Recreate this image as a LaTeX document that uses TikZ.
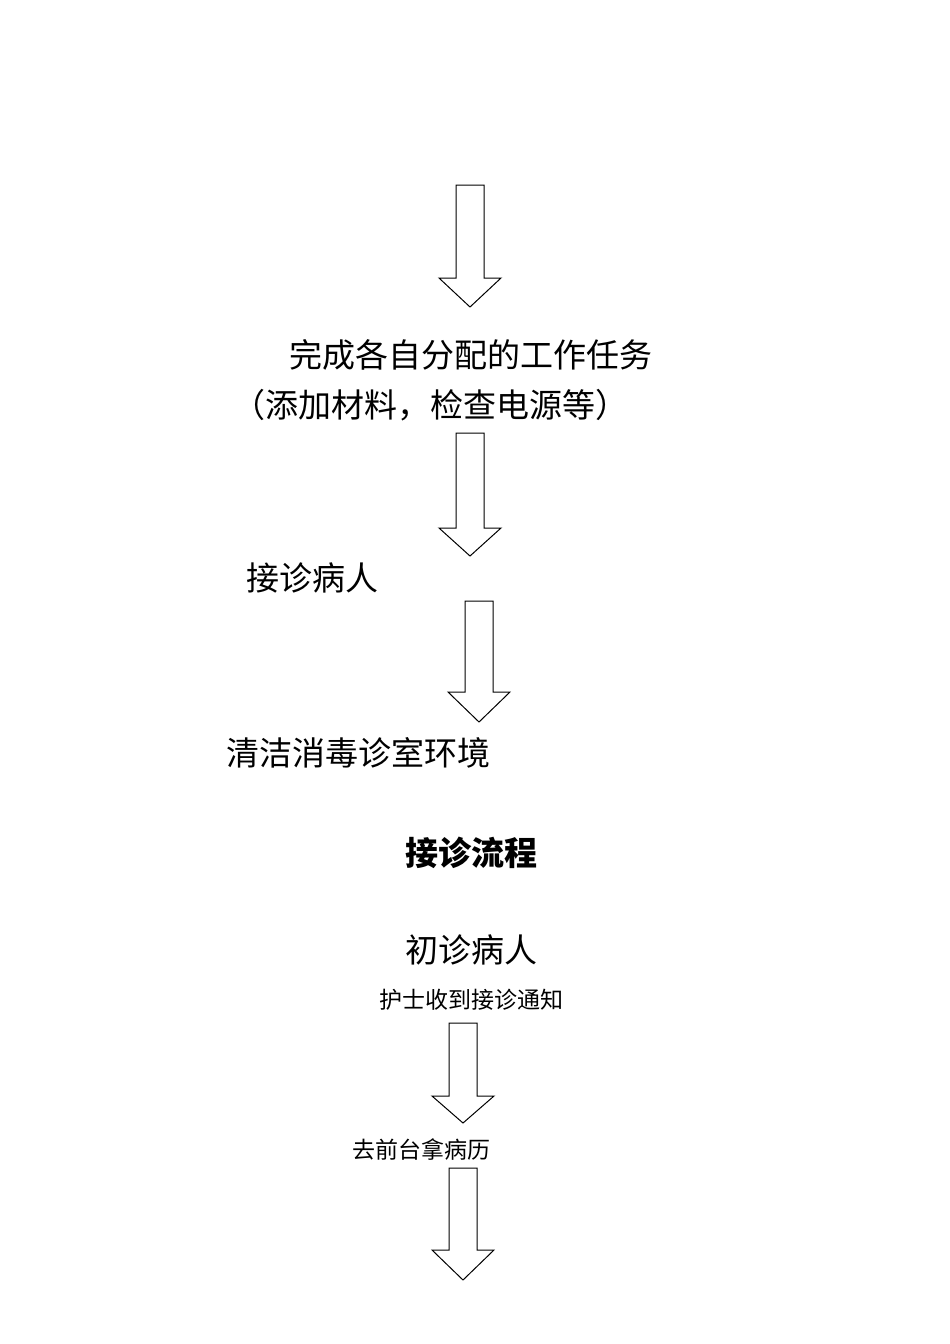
\documentclass[tikz,border=0pt]{standalone}
\usepackage{fontspec}
\newfontfamily\cjk{Noto Sans CJK SC}
\usetikzlibrary{positioning}
\tikzset{
  big/.style={inner sep=0pt, font=\cjk\fontsize{33}{38}\selectfont},
  bigb/.style={inner sep=0pt, font=\cjk\bfseries\fontsize{33}{38}\selectfont},
  small/.style={inner sep=0pt, font=\cjk\fontsize{23}{27}\selectfont},
  blockarrow/.style={draw=black, line width=1pt, fill=white}
}
% block arrow: center x, shaft top, shaft end, tip
\newcommand{\blkarrow}[4]{%
  \draw[blockarrow] (#1-14,#2) -- (#1+14,#2) -- (#1+14,#3) -- (#1+31,#3)
    -- (#1,#4) -- (#1-31,#3) -- (#1-14,#3) -- cycle;}
\begin{document}
\begin{tikzpicture}[x=1pt, y=-1pt]
  \useasboundingbox (0,0) rectangle (950,1344);
  % arrows
  \blkarrow{470}{185}{278}{307}
  \blkarrow{470}{433}{528}{556}
  \blkarrow{479}{601}{692}{722}
  \blkarrow{463}{1023}{1096}{1123}
  \blkarrow{463}{1168}{1250}{1280}
  % texts
  \node (task) [big] at (471,355) {完成各自分配的工作任务};
  \node (taskx) [big] at (430,405) {（添加材料，检查电源等）};
  \node (recv) [big, anchor=west] at (246,578) {接诊病人};
  \node (clean) [big, anchor=west] at (226,753) {清洁消毒诊室环境};
  \node (title) [bigb] at (471,853) {接诊流程};
  \node (first) [big] at (471,950) {初诊病人};
  \node (notice) [small] at (471,1000) {护士收到接诊通知};
  \node (record) [small, anchor=west] at (352,1150) {去前台拿病历};
\end{tikzpicture}
\end{document}
